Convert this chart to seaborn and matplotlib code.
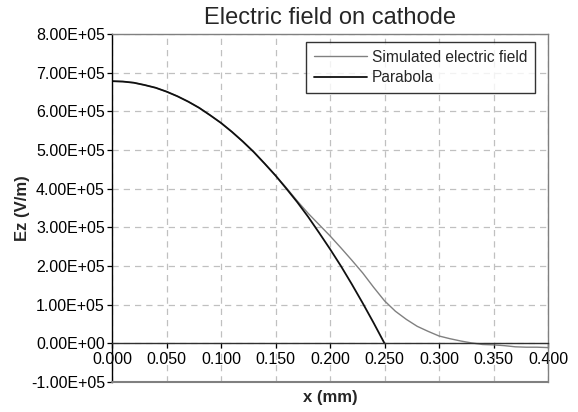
import numpy as np
import pandas as pd
import matplotlib
matplotlib.use("Agg")
import matplotlib.pyplot as plt
from matplotlib.ticker import FuncFormatter, MultipleLocator
import seaborn as sns

# Position along the cathode (mm)
x_sim = [0.00, 0.01, 0.02, 0.03, 0.04, 0.05, 0.06, 0.07, 0.08, 0.09, 0.10,
         0.11, 0.12, 0.13, 0.14, 0.15, 0.16, 0.17, 0.18, 0.19, 0.20, 0.21,
         0.22, 0.23, 0.24, 0.25, 0.26, 0.27, 0.28, 0.29, 0.30, 0.31, 0.32,
         0.33, 0.34, 0.35, 0.36, 0.37, 0.38, 0.39, 0.40]
# Simulated Ez (V/m)
e_sim = [6.78e5, 6.77e5, 6.74e5, 6.68e5, 6.61e5, 6.51e5, 6.39e5, 6.25e5,
         6.09e5, 5.90e5, 5.70e5, 5.47e5, 5.22e5, 4.95e5, 4.65e5, 4.34e5,
         4.02e5, 3.68e5, 3.36e5, 3.07e5, 2.78e5, 2.47e5, 2.15e5, 1.82e5,
         1.45e5, 1.10e5, 0.83e5, 0.62e5, 0.44e5, 0.31e5, 0.19e5, 0.12e5,
         0.06e5, 0.01e5, -0.03e5, -0.04e5, -0.06e5, -0.09e5, -0.10e5,
         -0.10e5, -0.11e5]

# Parabolic fit
x_par = [0.00, 0.01, 0.02, 0.03, 0.04, 0.05, 0.06, 0.07, 0.08, 0.09, 0.10,
         0.11, 0.12, 0.13, 0.14, 0.15, 0.16, 0.17, 0.18, 0.19, 0.20, 0.21,
         0.22, 0.23, 0.24, 0.25]
e_par = [6.78e5, 6.77e5, 6.74e5, 6.68e5, 6.61e5, 6.51e5, 6.39e5, 6.25e5,
         6.09e5, 5.90e5, 5.70e5, 5.47e5, 5.22e5, 4.95e5, 4.65e5, 4.34e5,
         4.00e5, 3.65e5, 3.27e5, 2.86e5, 2.44e5, 2.00e5, 1.53e5, 1.04e5,
         0.53e5, 0.00e5]

series_names = ["Simulated electric field", "Parabola"]
x_ticks = [0.000, 0.050, 0.100, 0.150, 0.200, 0.250, 0.300, 0.350, 0.400]

df = pd.concat([
    pd.DataFrame({"x": x_sim, "Ez": e_sim, "series": series_names[0]}),
    pd.DataFrame({"x": x_par, "Ez": e_par, "series": series_names[1]}),
], ignore_index=True)

sns.set_theme(style="white")
plt.rcParams["font.family"] = ["Liberation Sans", "DejaVu Sans"]

fig = plt.figure(figsize=(5.78, 4.12), dpi=100)
ax = fig.add_axes([112 / 578, 1 - 382 / 412, 436 / 578, 348 / 412])

sns.lineplot(data=df, x="x", y="Ez", hue="series", hue_order=series_names,
             palette={series_names[0]: "#808080", series_names[1]: "#101010"},
             estimator=None, sort=False, ax=ax, legend=True)
for line, lw in zip(ax.get_lines(), [1.0, 1.3]):
    line.set_linewidth(lw)

ax.set_xlim(0, 0.4)
ax.set_ylim(-1e5, 8e5)
ax.set_xticks(x_ticks)
ax.yaxis.set_major_locator(MultipleLocator(1e5))
ax.xaxis.set_major_formatter(FuncFormatter(lambda v, p: f"{v:.3f}"))
ax.yaxis.set_major_formatter(FuncFormatter(lambda v, p: f"{v:.2E}"))

# dashed grid
ax.grid(True, which="major", color="#c0c0c0", linestyle=(0, (5, 4)), linewidth=0.9)
ax.set_axisbelow(True)

# frame: black value axis, grey plot-area border, category axis at zero
for side in ("top", "right"):
    ax.spines[side].set_color("#808080")
    ax.spines[side].set_linewidth(1.0)
ax.spines["left"].set_color("black")
ax.spines["left"].set_linewidth(1.0)
ax.spines["bottom"].set_position(("data", 0))
ax.spines["bottom"].set_color("#303030")
ax.spines["bottom"].set_linewidth(1.0)
ax.axhline(-1e5, color="#808080", linewidth=1.5, clip_on=False, zorder=3)

ax.tick_params(axis="both", which="major", direction="out", length=3.6,
               width=0.9, color="black", labelsize=11.5, labelcolor="black",
               bottom=True, left=True, pad=1.5)
ax.tick_params(axis="x", pad=2.5)

ax.set_title("Electric field on cathode", fontsize=17, pad=7)
ax.set_xlabel("x (mm)", fontsize=12, fontweight="bold")
ax.set_ylabel("Ez (V/m)", fontsize=12, fontweight="bold")
ax.xaxis.set_label_coords(0.5, -0.045)
ax.yaxis.set_label_coords(-0.206, 0.5)
ax.xaxis.label.set_va("center")
ax.yaxis.label.set_va("center")

leg = ax.legend(loc="upper right", bbox_to_anchor=(0.970, 0.977), fontsize=11.2,
                frameon=True, fancybox=False, edgecolor="black",
                handlelength=3.4, handletextpad=0.3, borderpad=0.5,
                labelspacing=0.35, borderaxespad=0)
leg.get_frame().set_linewidth(1.0)
for h, lw in zip(leg.get_lines(), [1.0, 1.3]):
    h.set_linewidth(lw)

fig.savefig("out.png", dpi=100)
